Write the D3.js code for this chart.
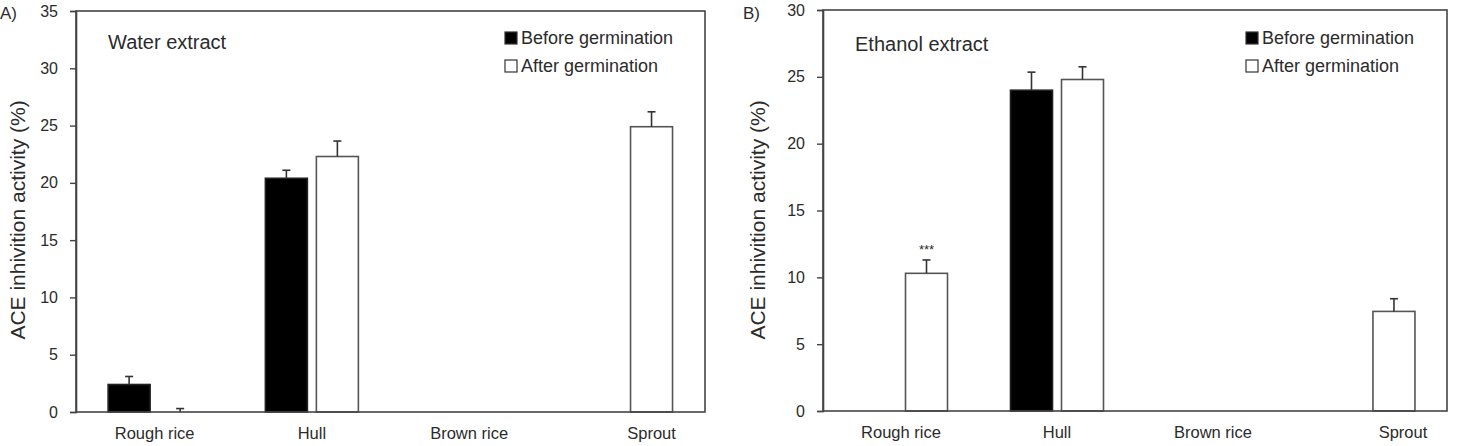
<!DOCTYPE html>
<html>
<head>
<meta charset="utf-8">
<script src="https://cdn.jsdelivr.net/npm/d3@7"></script>
<style>
  body { margin: 0; background: #fff; }
  text { font-family: "Liberation Sans", Arial, sans-serif; fill: #2b2b2b; }
</style>
</head>
<body>
<svg id="chart"></svg>
<script>
var width = 1457;
var height = 446;

// data
var categories = ["Rough rice", "Hull", "Brown rice", "Sprout"];
var seriesNames = ["Before germination", "After germination"];

var waterBefore = [2.4, 20.4, null, null];
var waterBeforeErr = [0.7, 0.7, null, null];
var waterAfter = [0, 22.3, null, 24.9];
var waterAfterErr = [0.3, 1.35, null, 1.3];
var waterTicks = [0, 5, 10, 15, 20, 25, 30, 35];

var ethanolBefore = [0, 24.0, null, null];
var ethanolBeforeErr = [0, 1.35, null, null];
var ethanolAfter = [10.3, 24.8, null, 7.45];
var ethanolAfterErr = [1.0, 0.95, null, 0.95];
var ethanolTicks = [0, 5, 10, 15, 20, 25, 30];
var ethanolMarks = ["***", "", "", ""];

var svg =
  d3.select("#chart")
      .attr("width", width)
      .attr("height", height);

function drawPanel(opts) {
  var left = opts.left, right = opts.right, top = opts.top, bottom = opts.bottom;
  var plotWidth = right - left;
  var barWidth = 42;
  var shift = 25.5;

  var g = svg.append("g");

  // scales
  var xScale =
    d3.scaleOrdinal()
      .domain(categories)
      .range([0.125, 0.375, 0.625, 0.915].map(f => left + f * plotWidth));

  var yScale =
    d3.scaleLinear()
      .domain([0, d3.max(opts.ticks)])
      .range([bottom, top]);

  // rows: one per bar
  var rows = [];
  categories.forEach((c, i) => {
    var single = opts.before[i] === null;
    if (opts.before[i] !== null) {
      rows.push({ cat: c, series: 0, value: opts.before[i], err: opts.beforeErr[i], cx: xScale(c) - shift, mark: "" });
    }
    if (opts.after[i] !== null) {
      rows.push({ cat: c, series: 1, value: opts.after[i], err: opts.afterErr[i], cx: single ? xScale(c) : xScale(c) + shift, mark: opts.marks ? opts.marks[i] : "" });
    }
  });

  // bars
  g.selectAll("rect.bar")
    .data(rows.filter(d => d.value > 0))
    .enter()
    .append("rect")
      .classed("bar", true)
      .attr("x", d => d.cx - barWidth / 2)
      .attr("y", d => yScale(d.value))
      .attr("width", barWidth)
      .attr("height", d => yScale(0) - yScale(d.value))
      .attr("fill", d => d.series === 0 ? "#000" : "#fff")
      .attr("stroke", d => d.series === 0 ? "#222" : "#555")
      .attr("stroke-width", 1.6);

  // error bars
  var errs =
    g.selectAll("g.err")
      .data(rows.filter(d => d.err > 0))
      .enter()
      .append("g")
        .classed("err", true)
        .attr("stroke", "#333")
        .attr("stroke-width", 1.6);

  errs.append("line")
      .attr("x1", d => d.cx)
      .attr("x2", d => d.cx)
      .attr("y1", d => yScale(d.value))
      .attr("y2", d => yScale(d.value + d.err));

  errs.append("line")
      .attr("x1", d => d.cx - 4)
      .attr("x2", d => d.cx + 4)
      .attr("y1", d => yScale(d.value + d.err))
      .attr("y2", d => yScale(d.value + d.err));

  // significance marks
  g.selectAll("text.mark")
    .data(rows.filter(d => d.mark))
    .enter()
    .append("text")
      .classed("mark", true)
      .attr("x", d => d.cx)
      .attr("y", d => yScale(d.value + d.err) - 6)
      .attr("text-anchor", "middle")
      .style("font-size", "13px")
      .text(d => d.mark);

  // frame
  g.append("rect")
      .attr("x", left)
      .attr("y", top)
      .attr("width", plotWidth)
      .attr("height", bottom - top)
      .attr("fill", "none")
      .attr("stroke", "#444")
      .attr("stroke-width", 1.6);

  // y-axis
  var yAxis =
    g.append("g")
      .attr("transform", `translate(${left}, 0)`)
      .call(
        d3.axisLeft(yScale)
          .tickValues(opts.ticks)
          .tickSize(6)
          .tickPadding(12)
      );
  yAxis.select(".domain").attr("stroke", "#444").attr("stroke-width", 1.6);
  yAxis.selectAll(".tick line").attr("stroke", "#444").attr("stroke-width", 1.4);
  yAxis.selectAll(".tick text")
      .attr("fill", "#2b2b2b")
      .style("font-size", "16px")
      .style("font-family", "Liberation Sans, Arial, sans-serif");

  // x labels
  g.selectAll("text.xlab")
    .data(categories)
    .enter()
    .append("text")
      .classed("xlab", true)
      .attr("x", d => {
        var i = categories.indexOf(d);
        return opts.before[i] === null && opts.after[i] !== null ? xScale(d) + opts.soloLabelShift : xScale(d);
      })
      .attr("y", bottom + 27)
      .attr("text-anchor", "middle")
      .style("font-size", "16.5px")
      .text(d => d);

  // y-axis label
  g.append("text")
      .attr("transform", "rotate(-90)")
      .attr("x", -220)
      .attr("y", opts.yLabelX)
      .attr("text-anchor", "middle")
      .style("font-size", "21px")
      .text("ACE inhivition activity (%)");

  // panel letter
  g.append("text")
      .attr("x", opts.letterX)
      .attr("y", 19)
      .style("font-size", "17px")
      .text(opts.letter);

  // title
  g.append("text")
      .attr("x", left + 32)
      .attr("y", opts.titleY)
      .style("font-size", "20px")
      .text(opts.title);

  // legend
  var legend =
    g.selectAll("g.legend")
      .data(seriesNames)
      .enter()
      .append("g")
        .classed("legend", true)
        .attr("transform", (d, i) => `translate(${opts.legendX}, ${32 + i * 28})`);

  legend.append("rect")
      .attr("width", 12)
      .attr("height", 12)
      .attr("fill", (d, i) => i === 0 ? "#000" : "#fff")
      .attr("stroke", "#333")
      .attr("stroke-width", 1.2);

  legend.append("text")
      .attr("x", 16)
      .attr("y", 12)
      .style("font-size", "18px")
      .text(d => d);
}

drawPanel({
  left: 76, right: 705, top: 11, bottom: 412,
  before: waterBefore, beforeErr: waterBeforeErr,
  after: waterAfter, afterErr: waterAfterErr,
  ticks: waterTicks,
  title: "Water extract", titleY: 49,
  letter: "A)", letterX: 0,
  legendX: 505, yLabelX: 25,
  soloLabelShift: 0
});

drawPanel({
  left: 823, right: 1447, top: 10, bottom: 411,
  before: ethanolBefore, beforeErr: ethanolBeforeErr,
  after: ethanolAfter, afterErr: ethanolAfterErr,
  ticks: ethanolTicks, marks: ethanolMarks,
  title: "Ethanol extract", titleY: 51,
  letter: "B)", letterX: 743,
  legendX: 1246, yLabelX: 765,
  soloLabelShift: 9
});
</script>
</body>
</html>
